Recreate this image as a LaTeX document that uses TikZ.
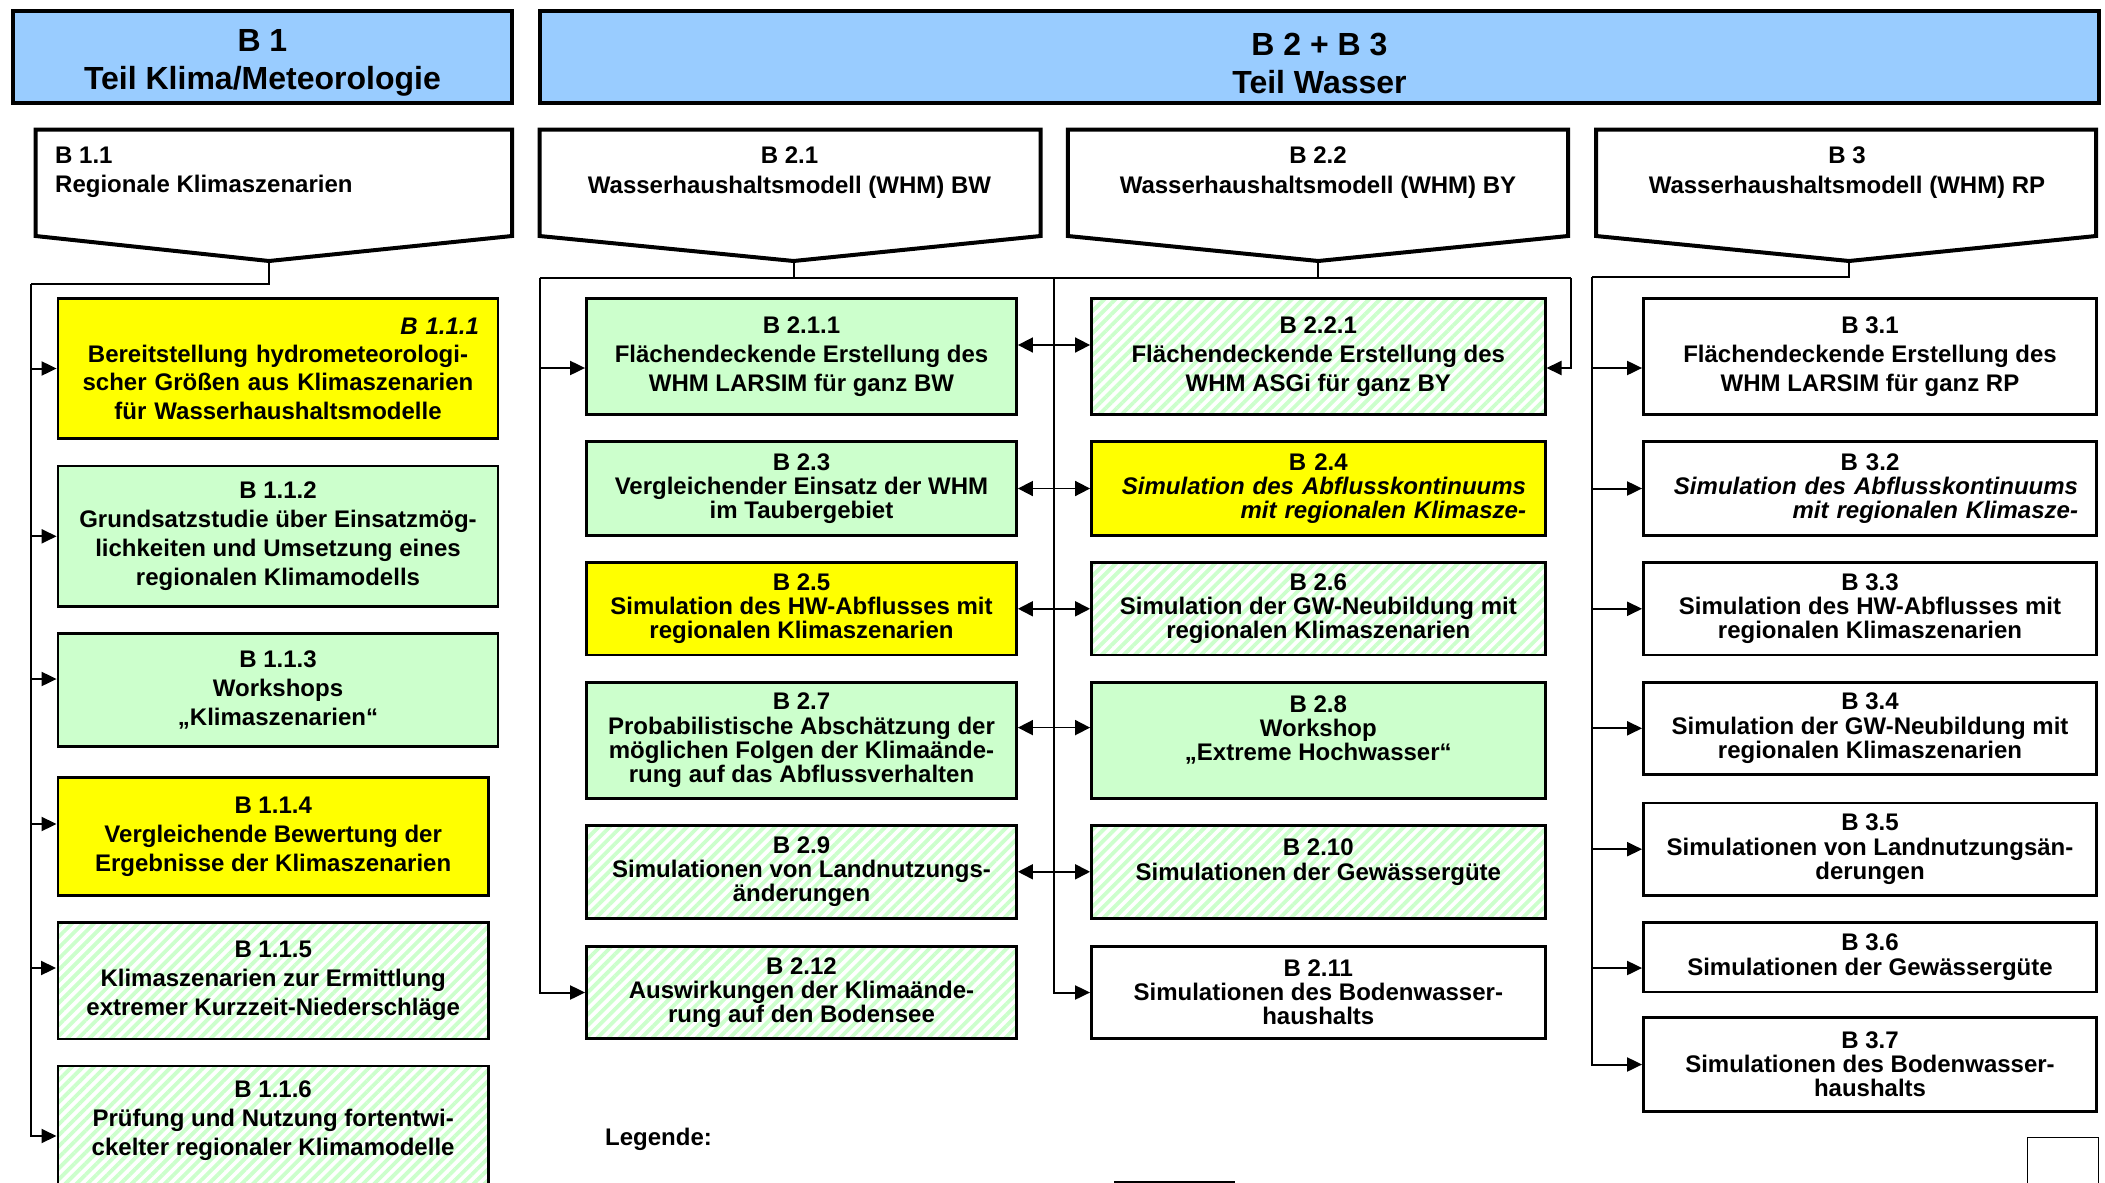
\documentclass[tikz,border=0pt]{standalone}
\usepackage{fontspec}
\setmainfont{Liberation Sans}
\usetikzlibrary{arrows.meta,patterns.meta,calc}
\definecolor{hblue}{HTML}{99CCFF}
\definecolor{lgreen}{HTML}{CCFFCC}
\definecolor{byellow}{HTML}{FFFF00}
\newcommand\fL{\fontsize{24}{29}\selectfont\bfseries}
\newcommand\fLb{\fontsize{24}{28.3}\selectfont\bfseries}
\newcommand\fT{\fontsize{24}{24.2}\selectfont\bfseries}
\newcommand\fC{\fontsize{24}{29.6}\selectfont\bfseries}
\newcommand\fH{\fontsize{32}{38}\selectfont\bfseries}
\begin{document}
\begin{tikzpicture}[x=1pt,y=-1pt,
  box/.style={draw, line width=2.8pt, inner sep=0pt, align=center, text=black, font=\fT},
  yel/.style={box, fill=byellow},
  grn/.style={box, fill=lgreen},
  hat/.style={box, pattern={Lines[angle=45,distance=7.8pt,line width=3.8pt]}, pattern color=lgreen},
  wht/.style={box, fill=white},
  loose/.style={font=\fL},
  hdr/.style={draw, line width=4pt, fill=hblue, inner sep=0pt, minimum height=91.3},
  htext/.style={inner sep=0pt, align=center, font=\fH},
  chev/.style={draw, line width=4pt, line join=miter},
  ctext/.style={inner sep=0pt, font=\fC},
  ln/.style={line width=1.8pt},
  arr/.style={line width=2pt, -{Triangle[length=15pt,width=14pt]}},
  darr/.style={line width=1.7pt, {Triangle[length=15pt,width=15pt]}-{Triangle[length=15pt,width=15pt]}}
]
\useasboundingbox (0,0) rectangle (2105,1183);
\fill[white] (0,0) rectangle (2105,1183);

% headers
\node[hdr, minimum width=499.3] (h1) at (262.4,57) {};
\node[hdr, minimum width=1559] (h2) at (1319.5,57) {};
\node[htext] (h1t) at ([yshift=-6pt]h1.center) {B 1\\Teil Klima/Meteorologie};
\node[htext] (h2t) at ([yshift=-6pt]h2.center) {B 2 + B 3\\Teil Wasser};

% chevrons
\coordinate (t11) at (269,261);
\coordinate (t21) at (793.6,261);
\coordinate (t22) at (1318.3,261);
\coordinate (t3) at (1849,261);
\draw[chev] (35.6,129.5) -- (512,129.5) -- (512,236) -- (t11) -- (35.6,236) -- cycle;
\draw[chev] (539.5,129.5) -- (1040.6,129.5) -- (1040.6,236) -- (t21) -- (539.5,236) -- cycle;
\draw[chev] (1067.8,129.5) -- (1568,129.5) -- (1568,236) -- (t22) -- (1067.8,236) -- cycle;
\draw[chev] (1596,129.5) -- (2096,129.5) -- (2096,236) -- (t3) -- (1596,236) -- cycle;
\node[ctext, anchor=north west, align=left] (c11) at (55,146.5) {B 1.1\\Regionale Klimaszenarien};
\node[ctext, anchor=north, align=center] (c21) at (789.5,146.5) {B 2.1\\Wasserhaushaltsmodell (WHM) BW};
\node[ctext, anchor=north, align=center] (c22) at (1318,146.5) {B 2.2\\Wasserhaushaltsmodell (WHM) BY};
\node[ctext, anchor=north, align=center] (c3) at (1847,146.5) {B 3\\Wasserhaushaltsmodell (WHM) RP};

% B1 column
\node[yel, font=\fLb, minimum width=440, minimum height=140.6, text width=402] (b111) at (278,368.5)
  {\makebox[\linewidth][r]{\itshape B 1.1.1}\\Bereitstellung hydrometeorologi-\\scher Größen aus Klimaszenarien\\für Wasserhaushaltsmodelle};
\node[grn, loose, minimum width=440, minimum height=140.5] (b112) at (278,536.3)
  {B 1.1.2\\Grundsatzstudie über Einsatzmög-\\lichkeiten und Umsetzung eines\\regionalen Klimamodells};
\node[grn, loose, minimum width=440, minimum height=112.5] (b113) at (278,690)
  {B 1.1.3\\Workshops\\„Klimaszenarien“};
\node[yel, loose, minimum width=430.5, minimum height=118] (b114) at (273.2,836.5)
  {B 1.1.4\\Vergleichende Bewertung der\\Ergebnisse der Klimaszenarien};
\node[hat, loose, minimum width=430.5, minimum height=116.5] (b115) at (273.2,980.7)
  {B 1.1.5\\Klimaszenarien zur Ermittlung\\extremer Kurzzeit-Niederschläge};
\node[hat, minimum width=430.5, minimum height=160, anchor=north west] (b116) at (56.5,1064.6) {};
\node[inner sep=0pt, align=center, font=\fL, anchor=north] (t116) at ([yshift=-15.6pt]b116.north)
  {B 1.1.6\\Prüfung und Nutzung fortentwi-\\ckelter regionaler Klimamodelle};

% B2 left column
\node[grn, loose, minimum width=430, minimum height=116.3] (b211) at (801.5,356.3)
  {B 2.1.1\\Flächendeckende Erstellung des\\WHM LARSIM für ganz BW};
\node[grn, minimum width=430, minimum height=94] (b23) at (801.5,488.5)
  {B 2.3\\Vergleichender Einsatz der WHM\\im Taubergebiet};
\node[yel, minimum width=430, minimum height=92.5] (b25) at (801.5,608.8)
  {B 2.5\\Simulation des HW-Abflusses mit\\regionalen Klimaszenarien};
\node[grn, minimum width=430, minimum height=116.4] (b27) at (801.5,740.3)
  {B 2.7\\Probabilistische Abschätzung der\\möglichen Folgen der Klimaände-\\rung auf das Abflussverhalten};
\node[hat, minimum width=430, minimum height=92.6] (b29) at (801.5,871.8)
  {B 2.9\\Simulationen von Landnutzungs-\\änderungen};
\node[hat, minimum width=430, minimum height=92] (b2k12) at (801.5,992.5)
  {B 2.12\\Auswirkungen der Klimaände-\\rung auf den Bodensee};

% B2 right column
\node[hat, loose, minimum width=453.6, minimum height=116.3] (b221) at (1318.3,356.3)
  {B 2.2.1\\Flächendeckende Erstellung des\\WHM ASGi für ganz BY};
\node[yel, minimum width=453.6, minimum height=94, text width=415.4, align=right] (b24) at (1318.3,488.5)
  {\makebox[\linewidth][c]{B 2.4}\\\itshape Simulation des Abflusskontinuums\\mit regionalen Klimasze-};
\node[hat, minimum width=453.6, minimum height=92.5] (b26) at (1318.3,608.8)
  {B 2.6\\Simulation der GW-Neubildung mit\\regionalen Klimaszenarien};
\node[grn, minimum width=453.6, minimum height=116.4] (b28) at (1318.3,740.3)
  {B 2.8\\Workshop\\„Extreme Hochwasser“\\\mbox{}};
\node[hat, minimum width=453.6, minimum height=92.6] (b2k10) at (1318.3,871.8)
  {B 2.10\\Simulationen der Gewässergüte\\\mbox{}};
\node[wht, minimum width=453.6, minimum height=92] (b2k11) at (1318.3,992.5)
  {B 2.11\\Simulationen des Bodenwasser-\\haushalts};

% B3 column
\node[wht, loose, minimum width=453, minimum height=116.3] (b31) at (1870,356.3)
  {B 3.1\\Flächendeckende Erstellung des\\WHM LARSIM für ganz RP};
\node[wht, minimum width=453, minimum height=94, text width=416, align=right] (b32) at (1870,488.5)
  {\makebox[\linewidth][c]{B 3.2}\\\itshape Simulation des Abflusskontinuums\\mit regionalen Klimasze-};
\node[wht, minimum width=453, minimum height=92.5] (b33) at (1870,608.8)
  {B 3.3\\Simulation des HW-Abflusses mit\\regionalen Klimaszenarien};
\node[wht, minimum width=453, minimum height=92.4] (b34) at (1870,728.3)
  {B 3.4\\Simulation der GW-Neubildung mit\\regionalen Klimaszenarien};
\node[wht, minimum width=453, minimum height=92.5] (b35) at (1870,849.2)
  {B 3.5\\Simulationen von Landnutzungsän-\\derungen};
\node[wht, minimum width=453, minimum height=69.5] (b36) at (1870,957.2)
  {B 3.6\\Simulationen der Gewässergüte};
\node[wht, minimum width=453, minimum height=94] (b37) at (1870,1064.5)
  {B 3.7\\Simulationen des Bodenwasser-\\haushalts};

% B1 connectors
\coordinate (j1) at (269,284);
\coordinate (bus1) at (31,284);
\draw[ln] (t11) -- (j1) -- (bus1);
\draw[arr] (bus1) |- (b111.west);
\draw[arr] (bus1) |- (b112.west);
\draw[arr] (bus1) |- ([yshift=11pt]b113.west);
\draw[arr] (bus1) |- ([yshift=12.5pt]b114.west);
\draw[arr] (bus1) |- ([yshift=12.7pt]b115.west);
\draw[arr] (bus1) |- ([yshift=10pt]b116.west);

% B2 connectors
\coordinate (j21) at (793.6,278.3);
\coordinate (j22) at (1318.3,278.3);
\coordinate (bus2l) at (539.6,278.3);
\coordinate (bus2m) at (1053.5,278.3);
\coordinate (bus2r) at (1570.7,278.3);
\draw[ln] (t21) -- (j21);
\draw[ln] (t22) -- (j22);
\draw[ln] (bus2l) -- (bus2r);
\draw[arr] (bus2l) |- ([yshift=-11.7pt]b211.west);
\draw[arr] (bus2l) |- (b2k12.west);
\draw[arr] (bus2m) |- (b2k11.west);
\draw[arr] (bus2r) |- ([yshift=-11.7pt]b221.east);
\draw[darr] ([yshift=11.3pt]b211.east) -- ([yshift=11.3pt]b221.west);
\draw[darr] (b23.east) -- (b24.west);
\draw[darr] (b25.east) -- (b26.west);
\draw[darr] ([yshift=12.7pt]b27.east) -- ([yshift=12.7pt]b28.west);
\draw[darr] (b29.east) -- (b2k10.west);

% B3 connectors
\coordinate (j3) at (1849,277.3);
\coordinate (bus3) at (1592,277.3);
\draw[ln] (t3) -- (j3) -- (bus3);
\draw[arr] (bus3) |- ([yshift=-11.7pt]b31.west);
\draw[arr] (bus3) |- (b32.west);
\draw[arr] (bus3) |- (b33.west);
\draw[arr] (bus3) |- (b34.west);
\draw[arr] (bus3) |- (b35.west);
\draw[arr] (bus3) |- ([yshift=-10.8pt]b36.west);
\draw[arr] (bus3) |- (b37.west);

% legend
\node[anchor=base west, inner sep=0pt, font=\fL] (leg) at (605,1145.5) {Legende:};
\node[draw, line width=2pt, minimum width=119, minimum height=60, anchor=north west, inner sep=0pt] (legbox) at (1114,1180.5) {};
\node[draw, line width=1.3pt, minimum width=71, minimum height=80, anchor=north west, inner sep=0pt] (cornerbox) at (2027,1136.7) {};
\end{tikzpicture}
\end{document}
